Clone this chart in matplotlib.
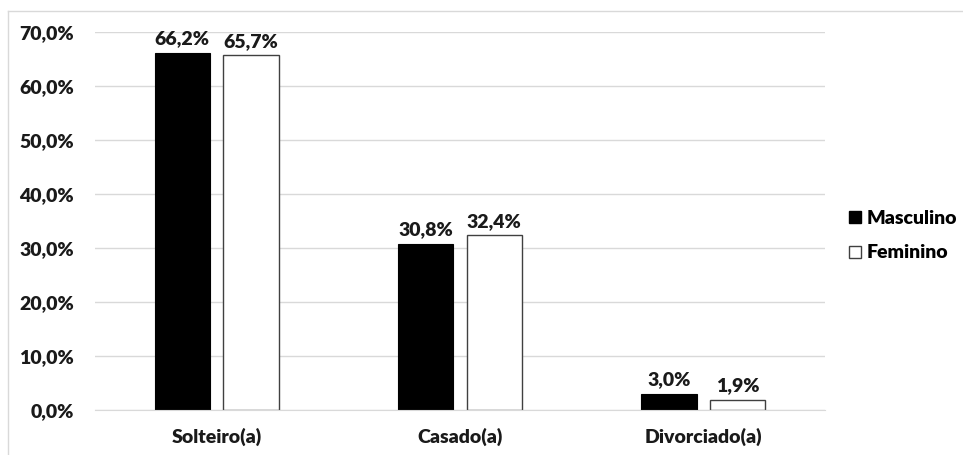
import matplotlib.pyplot as plt
from matplotlib.lines import Line2D
from matplotlib.ticker import FuncFormatter
import numpy as np

categories = ['Solteiro(a)', 'Casado(a)', 'Divorciado(a)']
masculino = [66.2, 30.8, 3.0]
feminino = [65.7, 32.4, 1.9]
series_names = ['Masculino', 'Feminino']

plt.rcParams['font.family'] = ['Lato', 'DejaVu Sans']
W = 'heavy'
FS = 14

fig = plt.figure(figsize=(9.63, 4.55), dpi=100)
ax = fig.add_axes([95 / 963, 45 / 455, 730 / 963, 378 / 455])

x = np.arange(len(categories))
width = 0.227
offset = 0.141

b1 = ax.bar(x - offset, masculino, width, color='black', edgecolor='black', linewidth=0.8, zorder=3)
b2 = ax.bar(x + offset, feminino, width, color='white', edgecolor='#404040', linewidth=1.0, zorder=3)

# value labels above each bar
for bars, vals in [(b1, masculino), (b2, feminino)]:
    for rect, v in zip(bars, vals):
        ax.text(rect.get_x() + rect.get_width() / 2, v + 1.0,
                ('%.1f%%' % v).replace('.', ','),
                ha='center', va='bottom', fontsize=FS, fontweight=W, color='#1a1a1a')

ax.set_xlim(-0.5, 2.5)
ax.set_ylim(0, 70)
ax.set_yticks(np.arange(0, 71, 10))
ax.yaxis.set_major_formatter(FuncFormatter(lambda v, p: ('%.1f%%' % v).replace('.', ',')))
ax.set_xticks(x)
ax.set_xticklabels(categories)
ax.tick_params(axis='both', length=0, labelsize=FS, colors='#1a1a1a')
ax.tick_params(axis='y', pad=15)
ax.tick_params(axis='x', pad=13)
for lab in ax.get_xticklabels() + ax.get_yticklabels():
    lab.set_fontweight(W)

ax.grid(axis='y', color='#d9d9d9', linewidth=1.0, zorder=0)
for s in ['top', 'right', 'left']:
    ax.spines[s].set_visible(False)
ax.spines['bottom'].set_color('#d9d9d9')
ax.spines['bottom'].set_zorder(4)

# legend
handles = [Line2D([], [], marker='s', linestyle='none', markersize=9,
                  markerfacecolor='black', markeredgecolor='black'),
           Line2D([], [], marker='s', linestyle='none', markersize=9,
                  markerfacecolor='white', markeredgecolor='#404040')]
fig.legend(handles, series_names, loc='center left', bbox_to_anchor=(0.862, 0.482),
           frameon=False, prop={'size': FS, 'weight': W},
           handletextpad=0.2, labelspacing=0.9, handlelength=0.8)

# chart area border (top and left visible)
fig.add_artist(Line2D([8 / 963, 8 / 963], [0, 1 - 11 / 455], color='#d9d9d9', linewidth=1.0))
fig.add_artist(Line2D([8 / 963, 1], [1 - 11 / 455, 1 - 11 / 455], color='#d9d9d9', linewidth=1.0))

fig.savefig('out.png', dpi=100)
